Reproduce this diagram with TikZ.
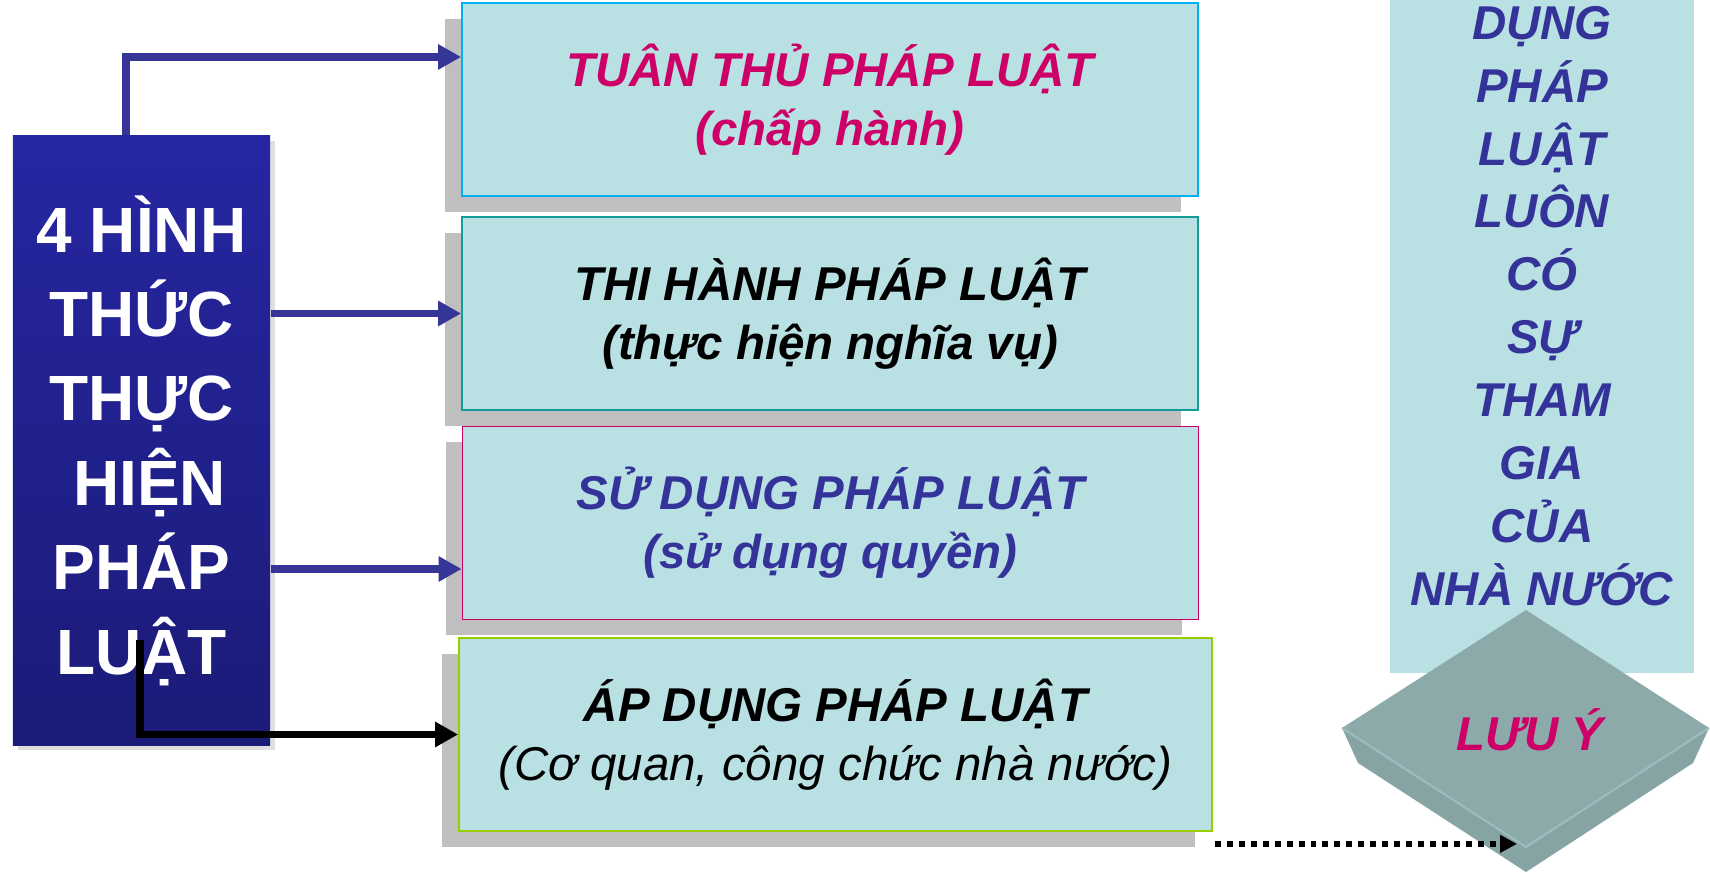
\documentclass[tikz,border=0pt]{standalone}
\usepackage{fontspec}
\setmainfont{Liberation Sans}
\usepackage{xcolor}
\usetikzlibrary{positioning,calc,arrows.meta,shadows}

\definecolor{boxfill}{HTML}{B9E0E3}
\definecolor{shadowgray}{HTML}{BFBFBF}
\definecolor{arrowblue}{HTML}{363699}
\definecolor{lawmagenta}{HTML}{CC0066}
\definecolor{lawblue}{HTML}{333399}
\definecolor{edgecyan}{HTML}{00B0F0}
\definecolor{edgeteal}{HTML}{149C96}
\definecolor{edgelime}{HTML}{99CC00}
\definecolor{maintop}{HTML}{2626A2}
\definecolor{mainbottom}{HTML}{1B1B78}
\definecolor{notetop}{HTML}{8DAAAB}
\definecolor{noteside}{HTML}{87A4A5}
\definecolor{noteedge}{HTML}{9DBCBD}

\begin{document}
\begin{tikzpicture}[
    formbox/.style={draw, line width=0.5pt, fill=boxfill, minimum width=7.36cm, minimum height=1.93cm,
      inner sep=0pt, align=center, font=\fontsize{13.5}{16.8}\selectfont\bfseries\itshape,
      drop shadow={shadow xshift=-0.17cm, shadow yshift=-0.16cm, fill=shadowgray, opacity=1}},
    mainbox/.style={top color=maintop, bottom color=mainbottom, minimum width=2.57cm, minimum height=6.09cm,
      inner sep=0pt, align=center, text=white, font=\fontsize{18.2}{24}\selectfont\bfseries,
      drop shadow={shadow xshift=0.05cm, shadow yshift=-0.05cm, opacity=0.25}},
    flow/.style={line width=2pt, draw=arrowblue, -{Triangle[length=0.23cm, width=0.24cm]}},
    flowblack/.style={line width=2.2pt, draw=black, -{Triangle[length=0.23cm, width=0.24cm]}},
    dotflow/.style={line width=1.7pt, dash pattern=on 1.7pt off 1.7pt, -{Triangle[length=0.17cm, width=0.17cm]}},
    notepanel/.style={fill=boxfill, minimum width=3.04cm, minimum height=6.91cm, inner sep=0pt},
    notetext/.style={text=lawblue, align=center, inner sep=0pt, font=\fontsize{13.5}{17.9}\selectfont\bfseries\itshape}
  ]
  \useasboundingbox (0,0) rectangle (17.1,8.72);

  % four forms
  \node[mainbox] (main) at (1.415,4.315) {4 HÌNH\\THỨC\\THỰC\\\hspace*{0.16cm}HIỆN\\PHÁP\\LUẬT};
  \node[formbox, draw=edgecyan, text=lawmagenta] (tuanthu) at (8.30,7.725) {TUÂN THỦ PHÁP LUẬT\\(chấp hành)};
  \node[formbox, draw=edgeteal] (thihanh) at (8.30,5.585) {THI HÀNH PHÁP LUẬT\\(thực hiện nghĩa vụ)};
  \node[formbox, draw=lawmagenta, text=lawblue] (sudung) at (8.305,3.49) {SỬ DỤNG PHÁP LUẬT\\(sử dụng quyền)};
  \node[formbox, draw=edgelime, minimum width=7.53cm] (apdung) at (8.355,1.375) {ÁP DỤNG PHÁP LUẬT\\{\mdseries (Cơ quan, công chức nhà nước)}};

  \draw[flow] ([xshift=-0.155cm]main.north) |- ([yshift=0.425cm]tuanthu.west);
  \draw[flow] (main.east |- thihanh.west) -- (thihanh.west);
  \coordinate (s3) at ([yshift=-0.46cm]sudung.west);
  \draw[flow] (main.east |- s3) -- (s3);
  \draw[flowblack] ([xshift=-0.015cm, yshift=-2cm]main.center) |- (apdung.west);

  % note on the right
  \node[notepanel] (panel) at (15.42,5.445) {};
  \node[notetext] (paneltext) at (15.42,5.66) {DỤNG\\PHÁP\\LUẬT\\LUÔN\\CÓ\\SỰ\\THAM\\GIA\\CỦA\\NHÀ NƯỚC};

  \coordinate (T) at (15.26,2.62);
  \coordinate (R) at (17.09,1.44);
  \coordinate (F) at (15.26,0.25);
  \coordinate (L) at (13.42,1.44);
  \coordinate (B) at (15.26,0);
  \coordinate (LL) at (13.58,1.09);
  \coordinate (RL) at (16.93,1.09);
  \fill[noteside] (L) -- (F) -- (B) -- (LL) -- cycle;
  \fill[noteside] (R) -- (F) -- (B) -- (RL) -- cycle;
  \fill[notetop] (T) -- (R) -- (F) -- (L) -- cycle;
  \draw[noteedge, line width=0.6pt] (L) -- (F) -- (R);
  \node[text=lawmagenta, font=\fontsize{13.5}{16}\selectfont\bfseries\itshape] (luuy) at (15.30,1.42) {LƯU Ý};

  \coordinate (dotstart) at ([xshift=0.02cm, yshift=-0.12cm]apdung.south east);
  \coordinate (notetip) at (15.17,0.29);
  \draw[dotflow] (dotstart) -- (dotstart -| notetip);
\end{tikzpicture}
\end{document}
